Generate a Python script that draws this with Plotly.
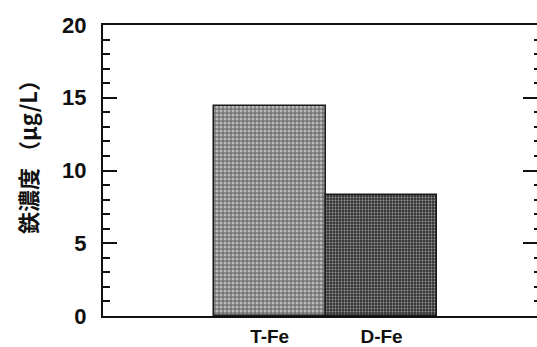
import plotly.graph_objects as go

categories = ["T-Fe", "D-Fe"]
values = [14.4, 8.3]
y_ticks = [0, 5, 10, 15, 20]

fig = go.Figure()
fig.add_trace(go.Bar(
    x=categories, y=values, width=1.0,
    marker=dict(
        color=["#747474", "#363636"],
        line=dict(color="#1a1a1a", width=1.5),
        pattern=dict(shape=[".", "."], fgcolor=["#c8c8c8", "#8a8a8a"],
                     size=[4, 3], solidity=[0.45, 0.3],
                     fillmode="overlay"),
    ),
    showlegend=False,
))
# invisible trace on a right-side axis to carry the mirrored ticks
fig.add_trace(go.Scatter(x=categories, y=values, yaxis="y2", mode="markers",
                         marker=dict(opacity=0), showlegend=False, hoverinfo="skip"))

tickfont = dict(family="Liberation Sans, Arial", size=22, color="#111", weight="bold")

fig.update_layout(
    width=537, height=347,
    margin=dict(l=103, r=0, t=25, b=31),
    paper_bgcolor="white", plot_bgcolor="white",
    bargap=0,
    xaxis=dict(
        type="category", range=[-1.49, 2.39], automargin=False,
        showline=True, linecolor="#111", linewidth=2, mirror=True,
        ticks="", showgrid=False, zeroline=False,
        tickfont=dict(family="Liberation Sans, Arial", size=19, color="#111", weight="bold"),
        ticklabelstandoff=2,
    ),
    yaxis=dict(
        range=[0, 20], tickvals=y_ticks, ticktext=[str(v) for v in y_ticks],
        automargin=False,
        showline=True, linecolor="#111", linewidth=2,
        ticks="inside", ticklen=14, tickwidth=2, tickcolor="#111",
        minor=dict(dtick=1, ticks="inside", ticklen=7, tickwidth=2, tickcolor="#111"),
        showgrid=False, zeroline=False,
        tickfont=tickfont, ticklabelstandoff=10,
    ),
    yaxis2=dict(
        overlaying="y", side="right", range=[0, 20], tickvals=y_ticks,
        automargin=False,
        showticklabels=False, showline=False,
        ticks="inside", ticklen=14, tickwidth=2, tickcolor="#111",
        minor=dict(dtick=1, ticks="inside", ticklen=3, tickwidth=2, tickcolor="#111"),
        showgrid=False, zeroline=False,
    ),
    annotations=[dict(
        text="鉄濃度 （μg/L）", textangle=-90, showarrow=False,
        xref="paper", yref="paper", x=-0.175, y=0.564, xanchor="center", yanchor="middle",
        font=dict(family="Noto Sans CJK JP", size=22, color="#111", weight="bold"),
    )],
)

fig.write_html("out.html")
